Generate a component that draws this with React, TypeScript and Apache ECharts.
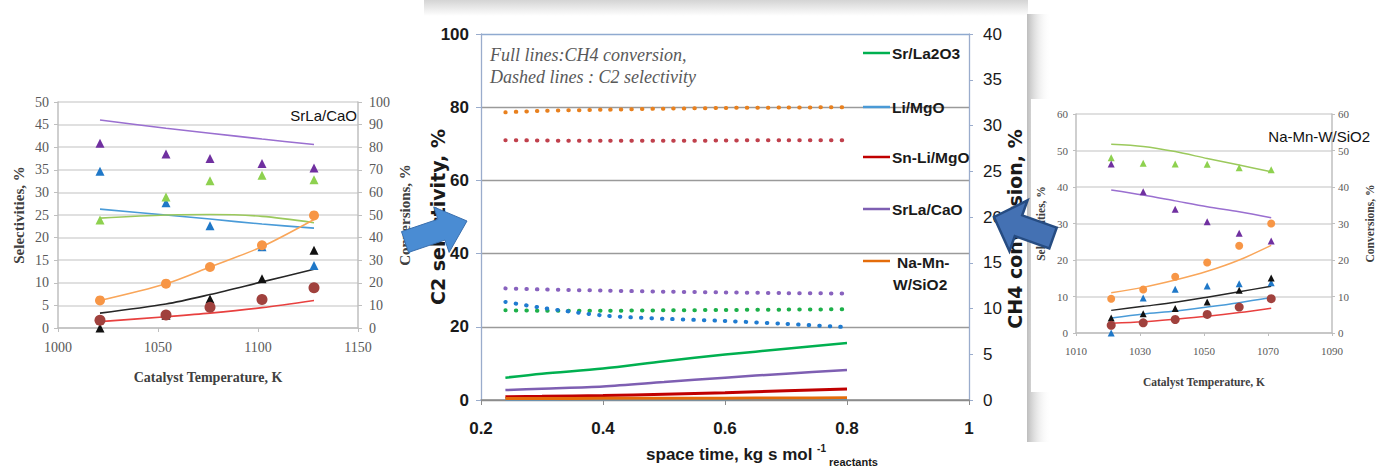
import React, { useEffect, useRef } from "react";
import * as echarts from "echarts";

// ---------- Left panel: SrLa/CaO ----------
const leftTemps = [1021, 1054, 1076, 1102, 1128];
const leftPurpleTri = [40.9, 38.5, 37.5, 36.4, 35.4];
const leftBlueTri = [34.7, 27.7, 22.6, 18.0, 13.8];
const leftGreenTri = [23.9, 29.0, 32.6, 33.8, 32.8];
const leftBlackTri = [0, 2.8, 6.4, 10.9, 17.2];
const leftOrangeCirc = [12.2, 19.6, 27.0, 36.6, 49.8]; // conversions (right axis)
const leftBrownCirc = [3.4, 5.8, 9.2, 12.6, 17.8]; // conversions (right axis)
const leftPurpleLine = [46.0, 44.2, 43.1, 41.8, 40.6];
const leftBlueLine = [26.3, 25.0, 24.1, 23.0, 22.1];
const leftGreenLine = [24.3, 25.0, 25.1, 24.7, 23.3];
const leftBlackLine = [3.3, 5.3, 7.4, 10.2, 13.0];
const leftOrangeLine = [12.2, 19.6, 27.0, 36.0, 48.0]; // right axis
const leftRedLine = [2.8, 5.0, 6.6, 9.0, 12.2]; // right axis

// ---------- Centre panel ----------
const spaceTime = [0.24, 0.3, 0.4, 0.5, 0.6, 0.7, 0.8];
const legendNames = ["Sr/La2O3", "Li/MgO", "Sn-Li/MgO", "SrLa/CaO", "Na-Mn-W/SiO2"];
// C2 selectivity, % (dotted, left axis)
const selSrLa2O3 = [24.5, 24.4, 24.4, 24.5, 24.6, 24.7, 24.8];
const selLiMgO = [26.8, 25.2, 23.1, 22.2, 21.6, 20.8, 19.9];
const selSnLiMgO = [71.0, 70.9, 70.8, 70.8, 70.9, 71.0, 71.0];
const selSrLaCaO = [30.5, 30.2, 29.9, 29.6, 29.4, 29.2, 29.1];
const selNaMnW = [78.6, 79.0, 79.3, 79.6, 79.8, 79.9, 80.0];
// CH4 conversion, % (full lines, right axis)
const convSrLa2O3 = [2.44, 2.88, 3.44, 4.24, 4.96, 5.6, 6.24];
const convLiMgO = [0.12, 0.12, 0.13, 0.14, 0.15, 0.16, 0.17];
const convSnLiMgO = [0.36, 0.4, 0.48, 0.64, 0.8, 1.0, 1.2];
const convSrLaCaO = [1.08, 1.24, 1.48, 1.96, 2.44, 2.88, 3.28];
const convNaMnW = [0.16, 0.16, 0.18, 0.2, 0.2, 0.22, 0.24];

// ---------- Right panel: Na-Mn-W/SiO2 ----------
const rightTemps = [1021, 1031, 1041, 1051, 1061, 1071];
const rightGreenTri = [48.0, 46.5, 46.3, 46.2, 45.3, 44.7];
const rightPurpleTri = [46.3, 38.7, 33.9, 30.5, 27.3, 25.2];
const rightBlueTri = [0, 9.6, 12.0, 12.9, 13.5, 13.8];
const rightBlackTri = [4.1, 5.3, 6.7, 8.5, 11.7, 15.1];
const rightOrangeCirc = [9.4, 11.9, 15.4, 19.3, 23.9, 30.0];
const rightBrownCirc = [2.1, 2.8, 3.7, 5.1, 7.1, 9.4];
const rightGreenLine = [51.7, 51.1, 49.7, 47.8, 46.0, 44.2];
const rightPurpleLine = [39.2, 37.8, 36.2, 34.6, 33.2, 31.6];
const rightOrangeLine = [11.0, 12.5, 14.5, 16.9, 20.0, 24.0];
const rightBlackLine = [6.2, 7.3, 8.4, 9.8, 11.3, 12.8];
const rightBlueLine = [4.1, 5.2, 6.0, 7.1, 8.3, 9.7];
const rightRedLine = [2.7, 3.1, 3.8, 4.6, 5.6, 6.8];

const SERIF = '"Liberation Serif", "Times New Roman", serif';
const SANS = '"Liberation Sans", Arial, sans-serif';
const DEJAVU = '"DejaVu Sans", Verdana, sans-serif';

const pairs = (xs: number[], ys: number[]) => xs.map((x, i) => [x, ys[i]]);
const plain = (v: number) => String(v);

function lineS(name: string, xi: number, yi: number, xs: number[], ys: number[], color: string, width: number, dotted = false) {
  return {
    type: "line",
    name,
    xAxisIndex: xi,
    yAxisIndex: yi,
    data: pairs(xs, ys),
    showSymbol: false,
    symbol: "none",
    smooth: 0.3,
    lineStyle: dotted
      ? { color, width: 4, type: [0.5, 10], cap: "round" }
      : { color, width },
    itemStyle: { color },
    silent: true,
    z: dotted ? 3 : 2,
  };
}

function scat(name: string, xi: number, yi: number, xs: number[], ys: number[], color: string, symbol: string, size: number) {
  return {
    type: "scatter",
    name,
    xAxisIndex: xi,
    yAxisIndex: yi,
    data: pairs(xs, ys),
    symbol,
    symbolSize: size,
    itemStyle: { color, opacity: 1 },
    silent: true,
    z: 5,
  };
}

function arrowPts(tx: number, ty: number, hx: number, hy: number, sw: number, hw: number, hl: number) {
  const dx = hx - tx, dy = hy - ty;
  const L = Math.sqrt(dx * dx + dy * dy);
  const ux = dx / L, uy = dy / L;
  const nx = -uy, ny = ux;
  const bx = hx - ux * hl, by = hy - uy * hl;
  return [
    [tx + nx * sw / 2, ty + ny * sw / 2],
    [bx + nx * sw / 2, by + ny * sw / 2],
    [bx + nx * hw / 2, by + ny * hw / 2],
    [hx, hy],
    [bx - nx * hw / 2, by - ny * hw / 2],
    [bx - nx * sw / 2, by - ny * sw / 2],
    [tx - nx * sw / 2, ty - ny * sw / 2],
  ];
}

const grayAxis = (color: string, width = 1.3) => ({ show: true, lineStyle: { color, width } });

function buildOption() {
  const sideTick = { fontFamily: SERIF, fontSize: 14, color: "#595959", formatter: plain };
  const sideName = { fontFamily: SERIF, fontSize: 14, fontWeight: "bold", color: "#404040" };
  const sideNameY = { fontFamily: SERIF, fontSize: 15, fontWeight: "bold", color: "#404040" };
  const sideTickR = { fontFamily: SERIF, fontSize: 11, color: "#595959", formatter: plain };
  const sideNameR = { fontFamily: SERIF, fontSize: 11.5, fontWeight: "bold", color: "#404040" };

  const legendColors = ["#00B050", "#4A9AD6", "#C00000", "#7E5FB2", "#E46C0A"];
  const legendY = [53, 107, 157, 209, 261];

  const graphic: any[] = [
    // centre panel top shade
    {
      type: "rect", z: -100, silent: true,
      shape: { x: 424, y: 0, width: 604, height: 16 },
      style: { fill: { type: "linear", x: 0, y: 0, x2: 0, y2: 1, colorStops: [{ offset: 0, color: "#d4d4d4" }, { offset: 1, color: "#ffffff" }] } },
    },
    // right panel shade strip
    {
      type: "rect", z: -100, silent: true,
      shape: { x: 1027, y: 14, width: 24, height: 428 },
      style: { fill: { type: "linear", x: 0, y: 0, x2: 1, y2: 0, colorStops: [{ offset: 0, color: "#bdbdbd" }, { offset: 1, color: "rgba(255,255,255,0)" }] } },
    },
    {
      type: "rect", z: -99, silent: true,
      shape: { x: 1031, y: 99, width: 346, height: 293 },
      style: { fill: "#ffffff" },
    },
    // annotations
    {
      type: "text", x: 490, y: 55, z: 10, silent: true,
      style: { text: "Full lines:CH4 conversion,", font: `italic 18px ${SERIF}`, fill: "#595959", align: "left", verticalAlign: "middle" },
    },
    {
      type: "text", x: 490, y: 77, z: 10, silent: true,
      style: { text: "Dashed lines : C2 selectivity", font: `italic 18px ${SERIF}`, fill: "#595959", align: "left", verticalAlign: "middle" },
    },
    {
      type: "text", x: 357, y: 115, z: 10, silent: true,
      style: { text: "SrLa/CaO", font: `15px ${SANS}`, fill: "#111111", align: "right", verticalAlign: "middle" },
    },
    {
      type: "text", x: 1370, y: 136, z: 10, silent: true,
      style: { text: "Na-Mn-W/SiO2", font: `15px ${SANS}`, fill: "#111111", align: "right", verticalAlign: "middle" },
    },
  ];

  legendNames.forEach((n, i) => {
    graphic.push({
      type: "line", z: 10, silent: true,
      shape: { x1: 863, y1: legendY[i], x2: 890, y2: legendY[i] },
      style: { stroke: legendColors[i], lineWidth: 2.5 },
    });
    if (i < 4) {
      graphic.push({
        type: "text", x: 892, y: legendY[i], z: 10, silent: true,
        style: { text: n, font: `bold 15.5px ${SANS}`, fill: "#1a1a1a", align: "left", verticalAlign: "middle" },
      });
    } else {
      graphic.push({
        type: "text", x: 897, y: legendY[i] + 1, z: 10, silent: true,
        style: { text: "Na-Mn-", font: `bold 15.5px ${SANS}`, fill: "#1a1a1a", align: "left", verticalAlign: "middle" },
      });
      graphic.push({
        type: "text", x: 893, y: legendY[i] + 23, z: 10, silent: true,
        style: { text: "W/SiO2", font: `bold 15.5px ${SANS}`, fill: "#1a1a1a", align: "left", verticalAlign: "middle" },
      });
    }
  });

  // arrows
  graphic.push({
    type: "polygon", z: 100, silent: true,
    shape: { points: arrowPts(405, 242, 467, 221, 22, 48, 27) },
    style: { fill: "#4A8CD3", stroke: "#3A6FAE", lineWidth: 1 },
  });
  graphic.push({
    type: "polygon", z: 100, silent: true,
    shape: { points: arrowPts(1053, 238, 994, 217, 22, 54, 26) },
    style: { fill: "#4471B3", stroke: "#264C82", lineWidth: 2.5 },
  });

  const series: any[] = [
    // left panel lines
    lineS("L purple", 0, 0, leftTemps, leftPurpleLine, "#9A6FD0", 1.6),
    lineS("L blue", 0, 0, leftTemps, leftBlueLine, "#4A9BD8", 1.6),
    lineS("L green", 0, 0, leftTemps, leftGreenLine, "#9BC95C", 1.6),
    lineS("L black", 0, 0, leftTemps, leftBlackLine, "#262626", 1.6),
    lineS("L orange", 0, 1, leftTemps, leftOrangeLine, "#F9A65A", 1.6),
    lineS("L red", 0, 1, leftTemps, leftRedLine, "#E8403F", 1.6),
    scat("L purple tri", 0, 0, leftTemps, leftPurpleTri, "#7030A0", "triangle", 9),
    scat("L blue tri", 0, 0, leftTemps, leftBlueTri, "#1F78C8", "triangle", 9),
    scat("L green tri", 0, 0, leftTemps, leftGreenTri, "#8ED14F", "triangle", 9),
    scat("L black tri", 0, 0, leftTemps, leftBlackTri, "#111111", "triangle", 9),
    scat("L orange circ", 0, 1, leftTemps, leftOrangeCirc, "#F79646", "circle", 10),
    scat("L brown circ", 0, 1, leftTemps, leftBrownCirc, "#A0413D", "circle", 11),

    // centre panel: full lines (CH4 conversion, right axis)
    lineS("Li/MgO", 1, 3, spaceTime, convLiMgO, "#4A9AD6", 3),
    lineS("Sr/La2O3", 1, 3, spaceTime, convSrLa2O3, "#00B050", 2.5),
    lineS("SrLa/CaO", 1, 3, spaceTime, convSrLaCaO, "#7E5FB2", 2.5),
    lineS("Sn-Li/MgO", 1, 3, spaceTime, convSnLiMgO, "#C00000", 3),
    lineS("Na-Mn-W/SiO2", 1, 3, spaceTime, convNaMnW, "#E46C0A", 3),
    // dotted (C2 selectivity, left axis)
    lineS("Sr/La2O3 C2", 1, 2, spaceTime, selSrLa2O3, "#1DB04A", 4, true),
    lineS("Li/MgO C2", 1, 2, spaceTime, selLiMgO, "#1F7BD0", 4, true),
    lineS("Sn-Li/MgO C2", 1, 2, spaceTime, selSnLiMgO, "#C0404C", 4, true),
    lineS("SrLa/CaO C2", 1, 2, spaceTime, selSrLaCaO, "#8862BE", 4, true),
    lineS("Na-Mn-W/SiO2 C2", 1, 2, spaceTime, selNaMnW, "#E8801E", 4, true),

    // right panel
    lineS("R green", 2, 4, rightTemps, rightGreenLine, "#9BC95C", 1.5),
    lineS("R purple", 2, 4, rightTemps, rightPurpleLine, "#9A6FD0", 1.5),
    lineS("R orange", 2, 5, rightTemps, rightOrangeLine, "#F9A65A", 1.5),
    lineS("R black", 2, 4, rightTemps, rightBlackLine, "#262626", 1.5),
    lineS("R blue", 2, 4, rightTemps, rightBlueLine, "#4A9BD8", 1.5),
    lineS("R red", 2, 5, rightTemps, rightRedLine, "#E8403F", 1.5),
    scat("R green tri", 2, 4, rightTemps, rightGreenTri, "#8ED14F", "triangle", 7),
    scat("R purple tri", 2, 4, rightTemps, rightPurpleTri, "#7030A0", "triangle", 7),
    scat("R blue tri", 2, 4, rightTemps, rightBlueTri, "#1F78C8", "triangle", 7),
    scat("R black tri", 2, 4, rightTemps, rightBlackTri, "#111111", "triangle", 7),
    scat("R orange circ", 2, 5, rightTemps, rightOrangeCirc, "#F79646", "circle", 8),
    scat("R brown circ", 2, 5, rightTemps, rightBrownCirc, "#A0413D", "circle", 9),
  ];

  return {
    animation: false,
    backgroundColor: "#ffffff",
    grid: [
      { left: 58, top: 102, width: 300, height: 226, show: false },
      { left: 481, top: 34, width: 488, height: 379, show: false },
      { left: 1076, top: 114, width: 258, height: 219, show: false },
    ],
    xAxis: [
      {
        gridIndex: 0, type: "value", min: 1000, max: 1150, interval: 50,
        axisLine: grayAxis("#bfbfbf", 1.5),
        axisTick: { show: true, length: 4, lineStyle: { color: "#bfbfbf" } },
        axisLabel: { ...sideTick, margin: 12 },
        splitLine: { show: false },
        name: "Catalyst Temperature, K", nameLocation: "middle", nameGap: 42, nameTextStyle: sideName,
      },
      {
        gridIndex: 1, type: "value", min: 0.2, max: 1, interval: 0.2,
        axisLine: grayAxis("#8c8c8c", 1.5),
        axisTick: { show: true, length: 5, lineStyle: { color: "#8c8c8c" } },
        axisLabel: {
          fontFamily: SANS, fontSize: 17, fontWeight: "bold", color: "#1a1a1a", margin: 20,
          formatter: (v: number) => String(+v.toFixed(1)),
        },
        splitLine: { show: false },
        name: "{a|space time, kg s mol }{sup|-1}{sub| reactants}",
        nameLocation: "middle", nameGap: 41, nameMoveOverlap: false,
        nameTextStyle: {
          padding: [0, 0, 0, 74],
          rich: {
            a: { fontFamily: SANS, fontSize: 17, fontWeight: "bold", color: "#1a1a1a", lineHeight: 26, verticalAlign: "middle" },
            sup: { fontFamily: SANS, fontSize: 10, fontWeight: "bold", color: "#1a1a1a", lineHeight: 26, verticalAlign: "top", padding: [2, 0, 0, 0] },
            sub: { fontFamily: SANS, fontSize: 11, fontWeight: "bold", color: "#1a1a1a", lineHeight: 26, verticalAlign: "bottom" },
          },
        },
      },
      {
        gridIndex: 2, type: "value", min: 1010, max: 1090, interval: 20,
        axisLine: grayAxis("#bfbfbf", 1.5),
        axisTick: { show: true, length: 3, lineStyle: { color: "#bfbfbf" } },
        axisLabel: { ...sideTickR, margin: 12 },
        splitLine: { show: false },
        name: "Catalyst Temperature, K", nameLocation: "middle", nameGap: 43, nameTextStyle: sideNameR,
      },
    ],
    yAxis: [
      {
        gridIndex: 0, type: "value", min: 0, max: 50, interval: 5, position: "left",
        axisLine: grayAxis("#bfbfbf", 1.5),
        axisTick: { show: true, length: 4, lineStyle: { color: "#bfbfbf" } },
        axisLabel: { ...sideTick, margin: 9 },
        splitLine: { show: true, lineStyle: { color: "#d6d6d6", width: 1.6 } },
        name: "Selectivities, %", nameLocation: "middle", nameGap: 32, nameTextStyle: sideNameY,
      },
      {
        gridIndex: 0, type: "value", min: 0, max: 100, interval: 10, position: "right",
        axisLine: grayAxis("#bfbfbf", 1.5),
        axisTick: { show: true, length: 4, lineStyle: { color: "#bfbfbf" } },
        axisLabel: { ...sideTick, margin: 11 },
        splitLine: { show: false },
        name: "Conversions, %", nameLocation: "middle", nameGap: 39, nameTextStyle: sideNameY,
      },
      {
        gridIndex: 1, type: "value", min: 0, max: 100, interval: 20, position: "left",
        axisLine: grayAxis("#9aaccc", 1.3),
        axisTick: { show: true, length: 5, lineStyle: { color: "#9aaccc" } },
        axisLabel: { fontFamily: SANS, fontSize: 17, fontWeight: "bold", color: "#1a1a1a", margin: 12 },
        splitLine: { show: true, lineStyle: { color: ["#8c8c8c", "#9a9a9a", "#9a9a9a", "#9a9a9a", "#9a9a9a", "#8faad0"], width: 1.4 } },
        name: "C2 selectivity, %", nameLocation: "middle", nameGap: 34, nameMoveOverlap: false,
        nameTextStyle: { fontFamily: DEJAVU, fontSize: 19, fontWeight: "bold", color: "#1a1a1a" },
      },
      {
        gridIndex: 1, type: "value", min: 0, max: 40, interval: 5, position: "right",
        axisLine: grayAxis("#9aaccc", 1.3),
        axisTick: { show: true, length: 4, lineStyle: { color: "#9aaccc" } },
        axisLabel: { fontFamily: SANS, fontSize: 17, color: "#1a1a1a", margin: 14 },
        splitLine: { show: false },
        name: "CH4 conversion, %", nameLocation: "middle", nameGap: 35,
        nameTextStyle: { fontFamily: DEJAVU, fontSize: 19, fontWeight: "bold", color: "#1a1a1a", padding: [0, 24, 0, 0] },
      },
      {
        gridIndex: 2, type: "value", min: 0, max: 60, interval: 10, position: "left",
        axisLine: grayAxis("#bfbfbf", 1.5),
        axisTick: { show: true, length: 3, lineStyle: { color: "#bfbfbf" } },
        axisLabel: { ...sideTickR, margin: 8 },
        splitLine: { show: true, lineStyle: { color: "#d6d6d6", width: 1.5 } },
        name: "Selectivities, %", nameLocation: "middle", nameGap: 29, nameTextStyle: sideNameR,
      },
      {
        gridIndex: 2, type: "value", min: 0, max: 60, interval: 10, position: "right",
        axisLine: grayAxis("#bfbfbf", 1.5),
        axisTick: { show: true, length: 3, lineStyle: { color: "#bfbfbf" } },
        axisLabel: { ...sideTickR, margin: 6 },
        splitLine: { show: false },
        name: "Conversions, %", nameLocation: "middle", nameGap: 32, nameTextStyle: sideNameR,
      },
    ],
    series,
    graphic,
  };
}

export default function App() {
  const ref = useRef<HTMLDivElement>(null);
  useEffect(() => {
    if (!ref.current) return;
    const chart = echarts.init(ref.current, null, { renderer: "svg" });
    chart.setOption(buildOption() as any);
    return () => chart.dispose();
  }, []);
  return (
    <div
      ref={ref}
      style={{ position: "fixed", left: 0, top: 0, width: 1377, height: 472, background: "#ffffff" }}
    />
  );
}
